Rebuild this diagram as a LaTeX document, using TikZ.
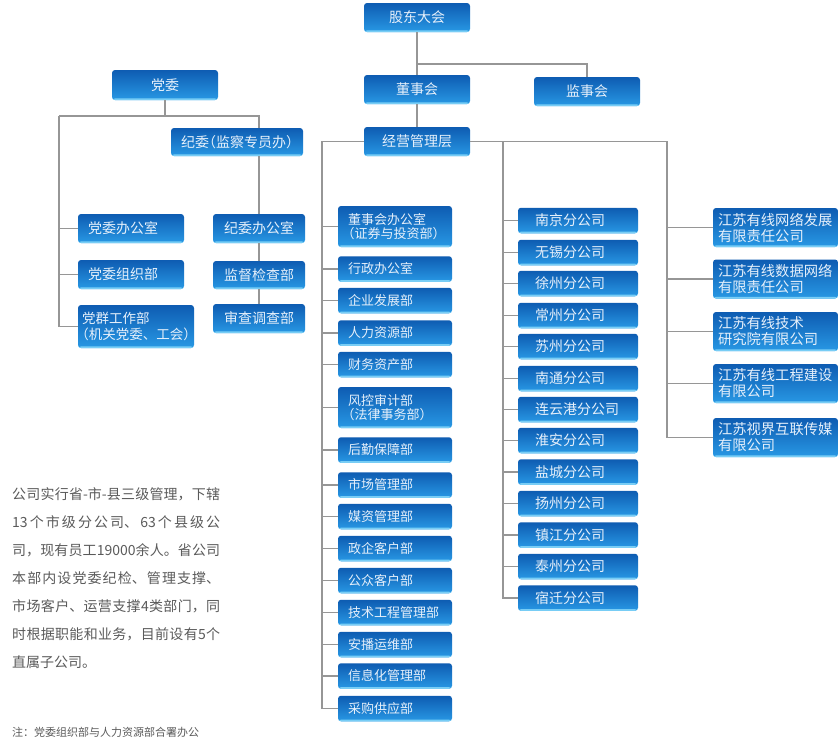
\documentclass[tikz,border=0pt]{standalone}
\usepackage{fontspec}
\setmainfont{Noto Sans CJK SC}
\definecolor{btop}{RGB}{14,92,178}
\definecolor{bbot}{RGB}{40,152,228}
\definecolor{bhl}{RGB}{120,205,245}
\definecolor{btxt}{RGB}{230,240,251}
\definecolor{lnc}{RGB}{150,150,150}
\definecolor{ptxt}{RGB}{90,90,90}
\newcommand{\ZKL}{\makebox[.5em][r]{（}}
\newcommand{\ZKR}{\makebox[.5em][l]{）}}
\tikzset{
  box/.style={rounded corners=3pt, top color=btop, bottom color=bbot, text=btxt, inner sep=0pt, draw=none,
    path picture={\fill[bhl] (path picture bounding box.south west) rectangle ([yshift=1.6pt]path picture bounding box.south east);}},
  topbox/.style={box, minimum width=106, minimum height=29, font=\fontsize{14}{16}\selectfont, align=center},
  lbox/.style={box, font=\fontsize{14}{16}\selectfont, align=left, inner xsep=10pt, text width=86pt},
  jbox/.style={box, font=\fontsize{14}{16}\selectfont, align=center, minimum width=92},
  mbox/.style={box, font=\fontsize{13}{14.5}\selectfont, align=left, inner xsep=10pt, text width=94pt, minimum height=25.5},
  bbox/.style={box, font=\fontsize{14}{16}\selectfont, align=left, inner xsep=17pt, text width=86pt, minimum height=25.5},
  rbox/.style={box, font=\fontsize{14.3}{16}\selectfont, align=left, inner xsep=5pt, text width=115pt, minimum height=39},
  conn/.style={draw=lnc, line width=1.3pt},
}
\begin{document}
\begin{tikzpicture}[x=1pt,y=-1pt]
\useasboundingbox (0,0) rectangle (838,740);
% top
\node[topbox] (gd) at (417,17.5) {股东大会};
\node[topbox, minimum height=30] (dw) at (165,85) {党委};
\node[topbox] (dsh) at (417,89.5) {董事会};
\node[topbox] (jsh) at (587,91.5) {监事会};
\node[topbox, minimum width=132, minimum height=28] (jw) at (237,142) {纪委\ZKL 监察专员办\ZKR};
\node[topbox] (jygl) at (417,141.5) {经营管理层};
% left
\node[lbox, minimum height=29] (dwb1) at (131,228.5) {党委办公室};
\node[lbox, minimum height=29] (dwb2) at (131,274.5) {党委组织部};
\node[lbox, inner xsep=4pt, text width=108pt, minimum height=43, font=\fontsize{13.5}{16}\selectfont] (dwb3) at (136,326.5) {党群工作部\\\ZKL 机关党委、工会\ZKR};
\node[jbox, minimum height=29] (jwb1) at (259,228.5) {纪委办公室};
\node[jbox, minimum height=28] (jwb2) at (259,275) {监督检查部};
\node[jbox, minimum height=29] (jwb3) at (259,318.5) {审查调查部};
% middle
\node[mbox, minimum height=41] (m1) at (395,226.5) {董事会办公室\\\ZKL 证券与投资部\ZKR};
\node[mbox] (m2) at (395,269) {行政办公室};
\node[mbox] (m3) at (395,300.5) {企业发展部};
\node[mbox] (m4) at (395,333) {人力资源部};
\node[mbox] (m5) at (395,364.5) {财务资产部};
\node[mbox, minimum height=41] (m6) at (395,407.5) {风控审计部\\\ZKL 法律事务部\ZKR};
\node[mbox] (m7) at (395,450) {后勤保障部};
\node[mbox] (m8) at (395,485) {市场管理部};
\node[mbox] (m9) at (395,516.5) {媒资管理部};
\node[mbox] (m10) at (395,548.5) {政企客户部};
\node[mbox] (m11) at (395,580.5) {公众客户部};
\node[mbox] (m12) at (395,612.5) {技术工程管理部};
\node[mbox] (m13) at (395,644.5) {安播运维部};
\node[mbox] (m14) at (395,676) {信息化管理部};
\node[mbox] (m15) at (395,708.5) {采购供应部};
% branches
\node[bbox] (b1) at (578,220.5) {南京分公司};
\node[bbox] (b2) at (578,252.5) {无锡分公司};
\node[bbox] (b3) at (578,283.5) {徐州分公司};
\node[bbox] (b4) at (578,315.5) {常州分公司};
\node[bbox] (b5) at (578,346.5) {苏州分公司};
\node[bbox] (b6) at (578,378.5) {南通分公司};
\node[bbox] (b7) at (578,409.5) {连云港分公司};
\node[bbox] (b8) at (578,440.5) {淮安分公司};
\node[bbox] (b9) at (578,472) {盐城分公司};
\node[bbox] (b10) at (578,503.5) {扬州分公司};
\node[bbox] (b11) at (578,535) {镇江分公司};
\node[bbox] (b12) at (578,566.5) {泰州分公司};
\node[bbox] (b13) at (578,598) {宿迁分公司};
% subsidiaries
\node[rbox] (r1) at (775.5,227.5) {江苏有线网络发展\\有限责任公司};
\node[rbox] (r2) at (775.5,279) {江苏有线数据网络\\有限责任公司};
\node[rbox] (r3) at (775.5,331.5) {江苏有线技术\\研究院有限公司};
\node[rbox] (r4) at (775.5,383.5) {江苏有线工程建设\\有限公司};
\node[rbox] (r5) at (775.5,437.5) {江苏视界互联传媒\\有限公司};
% connectors top
\coordinate (g1) at (417,64);
\draw[conn] (gd.south) -- (dsh.north);
\draw[conn] (g1) -| (jsh.north);
\draw[conn] (dsh.south) -- (jygl.north);
% party
\coordinate (dj) at (165,116);
\coordinate (dl) at (59,116);
\coordinate (dr) at (259,116);
\draw[conn] (dw.south) -- (dj);
\draw[conn] (dl) -- (dr) -- (dr |- jw.north);
\draw[conn] (dl) |- (dwb3.west);
\draw[conn] (dl |- dwb1.west) -- (dwb1.west);
\draw[conn] (dl |- dwb2.west) -- (dwb2.west);
\draw[conn] (jw.south -| jwb1.north) -- (jwb1.north);
\draw[conn] (jwb1.south) -- (jwb2.north);
\draw[conn] (jwb2.south) -- (jwb3.north);
% management
\coordinate (ml) at (322,141.5);
\coordinate (bl) at (503,141.5);
\coordinate (rl) at (667,141.5);
\draw[conn] (jygl.west) -- (ml) |- (m15.west);
\foreach \i in {1,...,14} {\draw[conn] (ml |- m\i.west) -- (m\i.west);}
\draw[conn] (jygl.east) -- (rl) |- (r5.west);
\draw[conn] (bl) |- (b13.west);
\foreach \i in {1,...,12} {\draw[conn] (bl |- b\i.west) -- (b\i.west);}
\foreach \i in {1,...,4} {\draw[conn] (rl |- r\i.west) -- (r\i.west);}
% text
\node[anchor=north west, inner sep=0pt, text=ptxt, font=\fontsize{14}{28}\selectfont] (para) at (12,487) {\parbox{208pt}{\XeTeXlinebreaklocale "zh"\XeTeXlinebreakskip=0pt plus 3pt\relax\parindent=0pt 公司实行省-市-县三级管理，下辖\linebreak 13个市级分公司、63个县级公\linebreak 司，现有员工19000余人。省公司\linebreak 本部内设党委纪检、管理支撑、\linebreak 市场客户、运营支撑4类部门，同\linebreak 时根据职能和业务，目前设有5个\linebreak 直属子公司。}};
\node[anchor=base west, inner sep=0pt, text=ptxt, font=\fontsize{11}{13}\selectfont] (note) at (12,736) {注：党委组织部与人力资源部合署办公};
\end{tikzpicture}
\end{document}
